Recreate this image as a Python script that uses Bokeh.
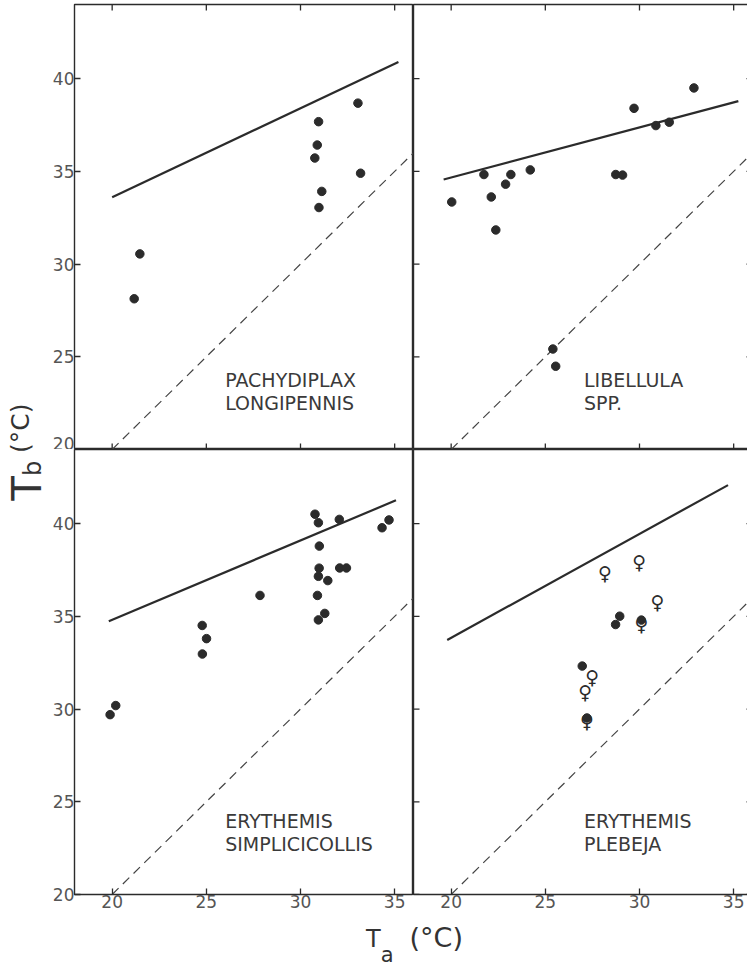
import math
from bokeh.plotting import figure
from bokeh.layouts import gridplot, row, column
from bokeh.models import FixedTicker, LinearAxis, Range1d, Div
from bokeh.core.properties import value
from bokeh.embed import file_html
from bokeh.resources import INLINE

# ---------------- data ----------------
x_ticks = [20, 25, 30, 35]
y_ticks = [20, 25, 30, 35, 40]
x_lim = [18, 36]
y_lim = [20, 44]

# Pachydiplax longipennis
pl_ta = [21.17, 21.47, 30.76, 30.89, 30.96, 31.13, 30.98, 33.05, 33.19]
pl_tb = [28.13, 30.55, 35.72, 36.42, 37.68, 33.92, 33.05, 38.68, 34.90]
pl_fit_ta = [20.0, 35.2]
pl_fit_tb = [33.6, 40.9]

# Libellula spp.
li_ta = [20.03, 21.74, 22.13, 22.37, 22.89, 23.17, 24.20, 28.74, 29.10,
         29.71, 30.87, 31.58, 32.89, 25.40, 25.55]
li_tb = [33.35, 34.83, 33.62, 31.84, 34.31, 34.83, 35.08, 34.83, 34.80,
         38.40, 37.47, 37.65, 39.50, 25.42, 24.49]
li_fit_ta = [19.6, 35.25]
li_fit_tb = [34.56, 38.79]

# Erythemis simplicicollis
es_ta = [19.89, 20.19, 24.78, 25.01, 24.79, 27.85, 30.77, 30.95, 31.00, 30.99,
         30.95, 31.45, 30.90, 31.29, 30.95, 32.06, 32.08, 32.44, 34.33, 34.70]
es_tb = [29.70, 30.19, 34.51, 33.80, 32.97, 36.13, 40.51, 40.05, 38.79, 37.60,
         37.16, 36.93, 36.13, 35.16, 34.81, 40.23, 37.61, 37.61, 39.78, 40.20]
es_fit_ta = [19.82, 35.07]
es_fit_tb = [34.74, 41.26]

# Erythemis plebeja
ep_ta = [26.96, 28.73, 28.95]
ep_tb = [32.32, 34.56, 35.01]
ep_ff_ta = [30.10, 27.21]            # filled, female
ep_ff_tb = [34.80, 29.52]
ep_fo_ta = [28.17, 29.98, 30.95, 27.49, 27.12]   # open, female
ep_fo_tb = [37.51, 38.10, 35.99, 31.91, 31.13]
ep_fit_ta = [19.79, 34.70]
ep_fit_tb = [33.73, 42.08]

# identity line Tb = Ta
eq_ta = [20, 36]
eq_tb = [20, 36]

names = ["PACHYDIPLAX\nLONGIPENNIS", "LIBELLULA\nSPP.",
         "ERYTHEMIS\nSIMPLICICOLLIS", "ERYTHEMIS\nPLEBEJA"]
name_x = [26.0, 27.05, 26.0, 27.05]
name_y = [24.34, 24.34, 24.56, 24.56]

# ---------------- style ----------------
INK = "#2b2b2b"
GREY = "#555555"
FONT = "DejaVu Sans"
FW, FH = 339, 445
TOP_B, LEFT_B, BOTTOM_B = 4, 32, 28
YDIV_W, XDIV_H = 42, 46


def label_axis(p, side, ticks):
    ax = LinearAxis(ticker=FixedTicker(ticks=ticks),
                    major_tick_in=6, major_tick_out=0,
                    minor_tick_in=0, minor_tick_out=0,
                    axis_line_color=None,
                    major_tick_line_color=INK, major_tick_line_width=1.3,
                    major_label_text_font=FONT,
                    major_label_text_font_size="17px",
                    major_label_text_color=GREY,
                    major_label_standoff=0)
    p.add_layout(ax, side)


def edge_ticks(p, side):
    # inward tick marks on unlabeled frame edges (outer half is clipped)
    if side in ("above", "below"):
        ys = y_lim[1] if side == "above" else y_lim[0]
        p.scatter(x_ticks, [ys] * len(x_ticks), marker="dash", angle=math.pi / 2,
                  size=12, line_color=INK, line_width=1.3)
    else:
        xs = x_lim[1] if side == "right" else x_lim[0]
        p.scatter([xs] * len(y_ticks), y_ticks, marker="dash", angle=0,
                  size=12, line_color=INK, line_width=1.3)


def panel(ta, tb, fit_ta, fit_tb, k, left, bottom, top_row, right_col):
    p = figure(frame_width=FW, frame_height=FH,
               x_range=Range1d(*x_lim), y_range=Range1d(*y_lim),
               x_axis_location=None, y_axis_location=None,
               output_backend="svg", toolbar_location=None,
               min_border_left=LEFT_B if left else 0,
               min_border_bottom=BOTTOM_B if bottom else 0,
               min_border_top=TOP_B if top_row else 0,
               min_border_right=2 if right_col else 0)
    p.grid.grid_line_color = None
    p.outline_line_color = INK
    p.outline_line_width = 1.4
    p.background_fill_color = "white"
    p.border_fill_color = "white"

    if left:
        label_axis(p, "left", y_ticks)
    else:
        edge_ticks(p, "left")
    if bottom:
        label_axis(p, "below", x_ticks)
    else:
        edge_ticks(p, "below")
    if top_row:
        edge_ticks(p, "above")
    if right_col:
        edge_ticks(p, "right")

    p.line(eq_ta, eq_tb, line_color="#444444", line_width=1.2, line_dash="9 6")
    p.line(fit_ta, fit_tb, line_color=INK, line_width=2.2)
    if ta:
        p.scatter(ta, tb, size=8.5, fill_color=INK, line_color=INK)
    p.text(x=[name_x[k]], y=[name_y[k]], text=[names[k]],
           text_font=value(FONT), text_font_size="19px",
           text_color="#3a3a3a", text_baseline="top", text_align="left",
           text_line_height=1.05)
    return p


tl = panel(pl_ta, pl_tb, pl_fit_ta, pl_fit_tb, 0, True, False, True, False)
tr = panel(li_ta, li_tb, li_fit_ta, li_fit_tb, 1, False, False, True, True)
bl = panel(es_ta, es_tb, es_fit_ta, es_fit_tb, 2, True, True, False, False)
br = panel(ep_ta, ep_tb, ep_fit_ta, ep_fit_tb, 3, False, True, False, True)

# female symbols in E. plebeja
br.scatter(ep_ff_ta, ep_ff_tb, size=8.5, fill_color=INK, line_color=INK)
br.text(x=ep_ff_ta + ep_fo_ta, y=ep_ff_tb + ep_fo_tb,
        text=["\u2640"] * (len(ep_ff_ta) + len(ep_fo_ta)),
        text_font=value(FONT), text_font_size="19px", text_color=INK,
        text_align="center", text_baseline="middle", y_offset=3.5)

grid = gridplot([[tl, tr], [bl, br]], toolbar_location=None)

grid_h = TOP_B + 2 * FH + BOTTOM_B
ydiv = Div(width=YDIV_W, height=grid_h, margin=0, text=(
    '<div style="position:relative;width:%dpx;height:%dpx;">'
    '<div style="position:absolute;left:27px;top:452px;'
    'transform:translate(-50%%,-50%%) rotate(-90deg);white-space:nowrap;'
    'font-family:\'DejaVu Sans\';color:#333;line-height:1;">'
    '<span style="font-size:40px">T</span>'
    '<span style="font-size:24px">b</span>'
    '<span style="font-size:25px;position:relative;top:-12px">&nbsp;(\u00b0C)</span>'
    '</div></div>') % (YDIV_W, grid_h))

xdiv = Div(width=YDIV_W + LEFT_B + 2 * FW + 2, height=XDIV_H, margin=0, text=(
    '<div style="position:relative;width:100%%;height:%dpx;">'
    '<div style="position:absolute;left:366px;top:2px;white-space:nowrap;'
    'font-family:\'DejaVu Sans\';color:#333;line-height:1;">'
    '<span style="font-size:24px">T</span>'
    '<span style="font-size:21px;position:relative;top:15px">a</span>'
    '<span style="font-size:27px;margin-left:16px">(\u00b0C)</span>'
    '</div></div>') % XDIV_H)

layout = column(row(ydiv, grid), xdiv)

open("out.html", "w").write(file_html(layout, INLINE))
